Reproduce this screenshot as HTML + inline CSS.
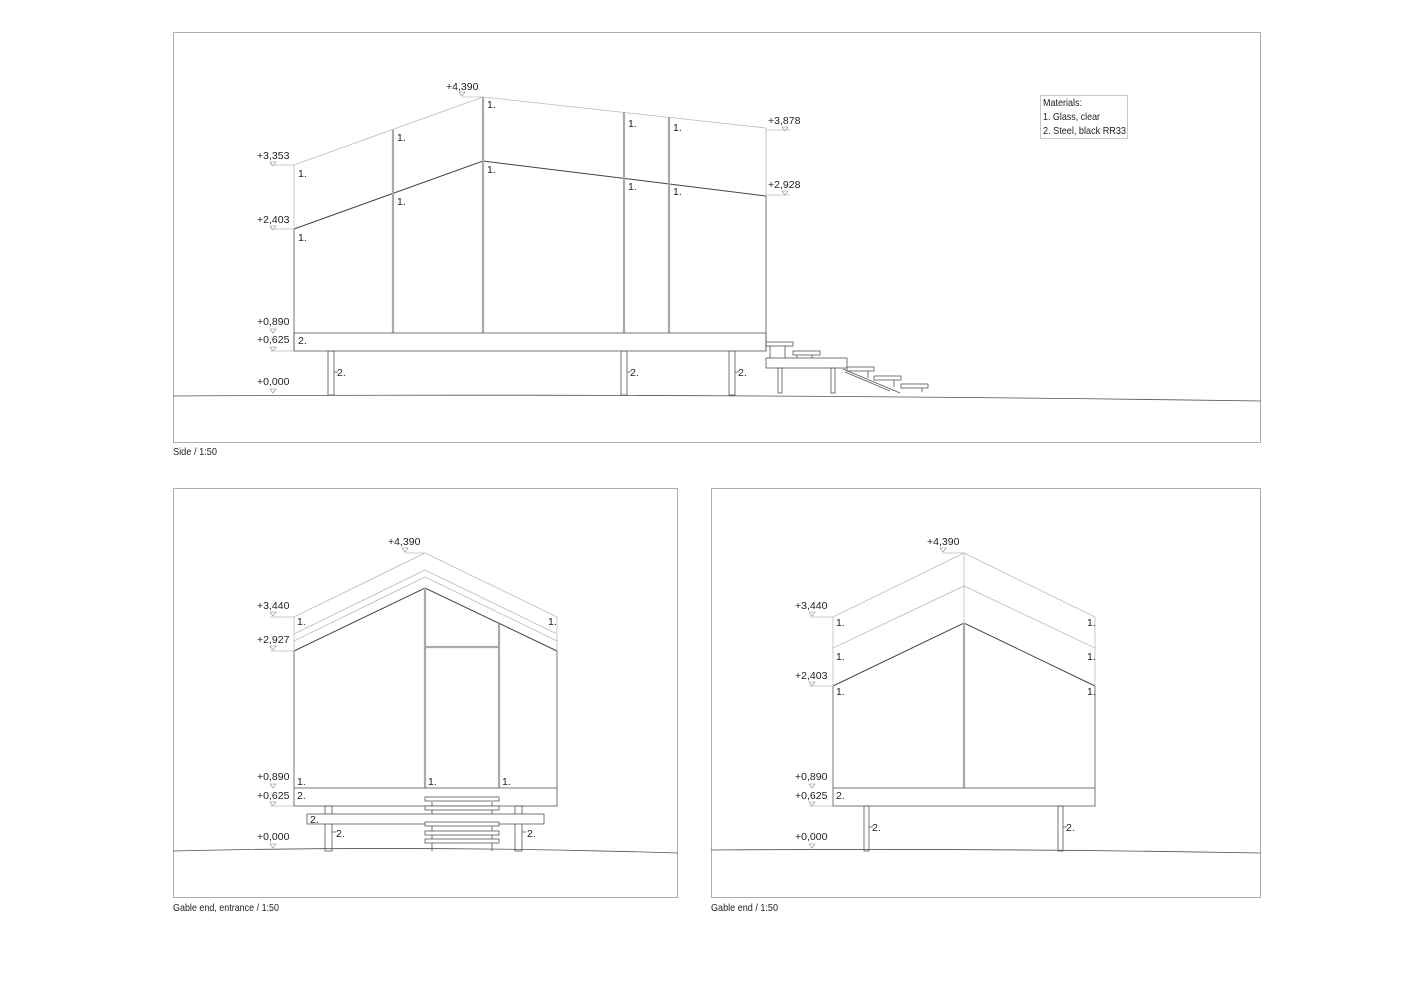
<!DOCTYPE html>
<html><head><meta charset="utf-8"><style>
body{margin:0;background:#fff}
svg{display:block}
text{font-family:"Liberation Sans Narrow","Liberation Sans",sans-serif;font-size:10.5px;fill:#222}
.f{fill:none;stroke:#999;stroke-width:0.8}
.l{fill:none;stroke:#555;stroke-width:0.8}
.g{fill:none;stroke:#bbb;stroke-width:0.8}
.d{fill:none;stroke:#444;stroke-width:1}
.m{fill:none;stroke:#aaa;stroke-width:2.2}
.w{fill:#fff;stroke:#555;stroke-width:0.8}
</style></head><body>
<svg width="1414" height="1000" viewBox="0 0 1414 1000" xmlns="http://www.w3.org/2000/svg">
<defs>
<g id="tri"><path d="M-3,0 L3,0 L0,4 Z" fill="none" stroke="#888" stroke-width="0.6"/></g>
</defs>
<!-- frames -->
<rect class="f" x="173.5" y="32.5" width="1087" height="410"/>
<rect class="f" x="173.5" y="488.5" width="504" height="409"/>
<rect class="f" x="711.5" y="488.5" width="549" height="409"/>
<text x="173" y="455" textLength="44" lengthAdjust="spacingAndGlyphs">Side / 1:50</text>
<text x="173" y="911" textLength="106" lengthAdjust="spacingAndGlyphs">Gable end, entrance / 1:50</text>
<text x="711" y="911" textLength="67" lengthAdjust="spacingAndGlyphs">Gable end / 1:50</text>

<!-- SIDE -->
<path class="l" d="M173,396 Q700,393 1261,401"/>
<polyline class="g" points="294,165 483,97 766,128"/>
<polyline class="d" points="294,229 483,161 766,196"/>
<line class="g" x1="294" y1="165" x2="294" y2="229"/>
<line class="l" x1="294" y1="229" x2="294" y2="351"/>
<line class="g" x1="766" y1="128" x2="766" y2="196"/>
<line class="l" x1="766" y1="196" x2="766" y2="351"/>
<line class="m" x1="393" y1="130" x2="393" y2="194" stroke="#ccc"/>
<line class="m" x1="393" y1="194" x2="393" y2="333"/>
<line class="m" x1="483" y1="97" x2="483" y2="161" stroke="#ccc"/>
<line class="m" x1="483" y1="161" x2="483" y2="333"/>
<line class="m" x1="624" y1="112" x2="624" y2="178" stroke="#ccc"/>
<line class="m" x1="624" y1="178" x2="624" y2="333"/>
<line class="m" x1="669" y1="117" x2="669" y2="183" stroke="#ccc"/>
<line class="m" x1="669" y1="183" x2="669" y2="333"/>
<rect class="l" x="294" y="333" width="472" height="18"/>
<g class="l">
<rect x="328" y="351" width="6" height="44"/>
<rect x="621" y="351" width="6" height="44"/>
<rect x="729" y="351" width="6" height="44"/>
<line x1="334" y1="372" x2="338" y2="372"/><line x1="627" y1="372" x2="631" y2="372"/><line x1="735" y1="372" x2="739" y2="372"/>
</g>
<text x="337" y="376">2.</text><text x="630" y="376">2.</text><text x="738" y="376">2.</text>
<!-- stairs -->
<g class="l">
<rect x="766" y="342" width="27" height="4"/>
<line x1="770" y1="346" x2="770" y2="358"/><line x1="785" y1="346" x2="785" y2="358"/>
<rect x="793" y="351" width="27" height="4"/>
<line x1="797" y1="355" x2="797" y2="358"/><line x1="812" y1="355" x2="812" y2="358"/>
<rect x="766" y="358" width="81" height="10"/>
<rect x="778" y="368" width="4" height="25"/>
<rect x="831" y="368" width="4" height="25"/>
<rect x="847" y="367" width="27" height="4"/>
<rect x="874" y="376" width="27" height="4"/>
<rect x="901" y="384" width="27" height="4"/>
<line x1="843" y1="369" x2="900" y2="393"/><line x1="845" y1="372" x2="890" y2="391"/>
<line x1="868" y1="371" x2="868" y2="378"/><line x1="894" y1="380" x2="894" y2="387"/><line x1="922" y1="388" x2="922" y2="392"/>
</g>
<!-- side labels 1. -->
<text x="298" y="177">1.</text><text x="298" y="241">1.</text>
<text x="397" y="141">1.</text><text x="397" y="205">1.</text>
<text x="487" y="108">1.</text><text x="487" y="173">1.</text>
<text x="628" y="127">1.</text><text x="628" y="190">1.</text>
<text x="673" y="131">1.</text><text x="673" y="195">1.</text>
<text x="298" y="344">2.</text>
<!-- side levels -->
<g>
<text x="257" y="159">+3,353</text><use href="#tri" x="273" y="162"/><line class="g" x1="270" y1="165" x2="294" y2="165"/>
<text x="257" y="223">+2,403</text><use href="#tri" x="273" y="226"/><line class="g" x1="270" y1="229" x2="294" y2="229"/>
<text x="257" y="325">+0,890</text><use href="#tri" x="273" y="329"/>
<text x="257" y="343">+0,625</text><use href="#tri" x="273" y="347"/><line class="g" x1="270" y1="351" x2="294" y2="351"/>
<text x="257" y="385">+0,000</text><use href="#tri" x="273" y="389"/>
<text x="446" y="90">+4,390</text><use href="#tri" x="462" y="92"/><line class="g" x1="462" y1="97" x2="483" y2="97"/>
<text x="768" y="124">+3,878</text><use href="#tri" x="785" y="127"/><line class="g" x1="766" y1="130" x2="790" y2="130"/>
<text x="768" y="188">+2,928</text><use href="#tri" x="785" y="191"/><line class="g" x1="766" y1="195" x2="790" y2="195"/>
</g>
<rect class="g" x="1040.5" y="95.5" width="87" height="43"/>
<text x="1043" y="106" textLength="39" lengthAdjust="spacingAndGlyphs">Materials:</text>
<text x="1043" y="120" textLength="57" lengthAdjust="spacingAndGlyphs">1. Glass, clear</text>
<text x="1043" y="134" textLength="83" lengthAdjust="spacingAndGlyphs">2. Steel, black RR33</text>

<!-- GABLE ENTRANCE -->
<path class="l" d="M173,851 Q420,845 678,853"/>
<polyline class="g" points="294,617 425,553 557,617"/>
<polyline class="g" points="294,634 425,570 557,634"/>
<polyline class="g" points="294,641 425,577 557,641"/>
<polyline class="d" points="294,651 425,588 557,651"/>
<line class="g" x1="294" y1="617" x2="294" y2="651"/><line class="g" x1="557" y1="617" x2="557" y2="651"/>
<line class="l" x1="294" y1="651" x2="294" y2="788"/><line class="l" x1="557" y1="651" x2="557" y2="788"/>
<line class="m" x1="425" y1="588" x2="425" y2="788" stroke="#bbb" stroke-width="1.6"/>
<line class="m" x1="499" y1="624" x2="499" y2="788" stroke="#bbb" stroke-width="1.6"/>
<line class="m" x1="425" y1="647" x2="499" y2="647" stroke="#bbb" stroke-width="1.6"/>
<rect class="l" x="294" y="788" width="263" height="18"/>
<g class="l">
<rect x="325" y="806" width="7" height="45"/><rect x="515" y="806" width="7" height="45"/>
<line x1="432" y1="802" x2="432" y2="851"/><line x1="492" y1="802" x2="492" y2="851"/>
<line x1="332" y1="832" x2="336" y2="832"/><line x1="522" y1="832" x2="526" y2="832"/>
</g>
<rect class="w" x="307" y="814" width="237" height="10"/>
<g class="w">
<rect x="425" y="797" width="74" height="4"/><rect x="425" y="806" width="74" height="4"/>
<rect x="425" y="822" width="74" height="4"/><rect x="425" y="831" width="74" height="4"/><rect x="425" y="839" width="74" height="4"/>
</g>
<text x="310" y="823">2.</text><text x="336" y="837">2.</text><text x="527" y="837">2.</text>
<text x="297" y="625">1.</text><text x="548" y="625">1.</text>
<text x="297" y="785">1.</text><text x="428" y="785">1.</text><text x="502" y="785">1.</text>
<text x="297" y="799">2.</text>
<text x="388" y="545">+4,390</text><use href="#tri" x="405" y="548"/><line class="g" x1="405" y1="553" x2="425" y2="553"/>
<text x="257" y="609">+3,440</text><use href="#tri" x="273" y="612"/><line class="g" x1="270" y1="617" x2="294" y2="617"/>
<text x="257" y="643">+2,927</text><use href="#tri" x="273" y="646"/><line class="g" x1="270" y1="651" x2="294" y2="651"/>
<text x="257" y="780">+0,890</text><use href="#tri" x="273" y="784"/>
<text x="257" y="799">+0,625</text><use href="#tri" x="273" y="802"/><line class="g" x1="270" y1="806" x2="294" y2="806"/>
<text x="257" y="840">+0,000</text><use href="#tri" x="273" y="844"/>

<!-- GABLE END -->
<path class="l" d="M711,850 Q980,848 1261,853"/>
<polyline class="g" points="833,617 964,553 1095,617"/>
<polyline class="g" points="833,648 964,586 1095,648"/>
<polyline class="d" points="833,686 964,623 1095,686"/>
<line class="g" x1="833" y1="617" x2="833" y2="686"/><line class="g" x1="1095" y1="617" x2="1095" y2="686"/>
<line class="g" x1="964" y1="553" x2="964" y2="623"/>
<line class="l" x1="833" y1="686" x2="833" y2="788"/><line class="l" x1="1095" y1="686" x2="1095" y2="788"/>
<line class="m" x1="964" y1="623" x2="964" y2="788" stroke="#999" stroke-width="1.6"/>
<rect class="l" x="833" y="788" width="262" height="18"/>
<g class="l">
<rect x="864" y="806" width="5" height="45"/><rect x="1058" y="806" width="5" height="45"/>
<line x1="869" y1="827" x2="873" y2="827"/><line x1="1063" y1="827" x2="1067" y2="827"/>
</g>
<text x="872" y="831">2.</text><text x="1066" y="831">2.</text>
<text x="836" y="626">1.</text><text x="1087" y="626">1.</text>
<text x="836" y="660">1.</text><text x="1087" y="660">1.</text>
<text x="836" y="695">1.</text><text x="1087" y="695">1.</text>
<text x="836" y="799">2.</text>
<text x="927" y="545">+4,390</text><use href="#tri" x="943" y="548"/><line class="g" x1="943" y1="553" x2="964" y2="553"/>
<text x="795" y="609">+3,440</text><use href="#tri" x="812" y="612"/><line class="g" x1="809" y1="617" x2="833" y2="617"/>
<text x="795" y="679">+2,403</text><use href="#tri" x="812" y="682"/><line class="g" x1="809" y1="686" x2="833" y2="686"/>
<text x="795" y="780">+0,890</text><use href="#tri" x="812" y="784"/>
<text x="795" y="799">+0,625</text><use href="#tri" x="812" y="802"/><line class="g" x1="809" y1="806" x2="833" y2="806"/>
<text x="795" y="840">+0,000</text><use href="#tri" x="812" y="844"/>
</svg>
</body></html>
